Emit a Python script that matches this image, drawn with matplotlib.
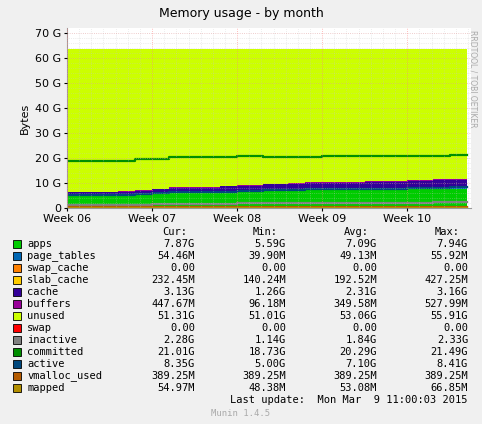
import matplotlib
matplotlib.use("Agg")
import matplotlib.pyplot as plt
import numpy as np

# time in weeks after Week 06
t = [0.0, 0.6, 0.8, 1.0, 1.2, 1.5, 1.8, 2.0, 2.3, 2.6, 2.8, 3.0, 3.5, 3.9, 4.0, 4.3, 4.5, 4.7]
apps        = [4.9, 4.9, 5.2, 5.6, 5.9, 5.9, 6.3, 6.5, 6.8, 6.9, 7.1, 7.2, 7.3, 7.4, 7.6, 7.7, 7.8, 7.87]
page_tables = [0.04, 0.04, 0.04, 0.045, 0.045, 0.045, 0.05, 0.05, 0.05, 0.05, 0.05, 0.05, 0.05, 0.05, 0.055, 0.055, 0.055, 0.054]
swap_cache  = [0.0] * len(t)
slab_cache  = [0.15, 0.15, 0.15, 0.16, 0.16, 0.17, 0.18, 0.18, 0.19, 0.19, 0.2, 0.2, 0.2, 0.21, 0.22, 0.23, 0.23, 0.23]
cache       = [1.3, 1.4, 1.5, 1.7, 2.0, 2.0, 2.1, 2.2, 2.4, 2.4, 2.5, 2.6, 2.7, 2.8, 3.0, 3.1, 3.1, 3.13]
buffers     = [0.1, 0.12, 0.15, 0.2, 0.25, 0.25, 0.3, 0.33, 0.35, 0.35, 0.38, 0.4, 0.4, 0.42, 0.43, 0.44, 0.45, 0.45]
total = 63.5
committed   = [18.8, 18.8, 19.5, 19.8, 20.4, 20.4, 20.4, 20.9, 20.5, 20.5, 20.5, 20.9, 20.9, 20.9, 20.9, 20.9, 21.3, 21.3]
inactive    = [1.2, 1.3, 1.4, 1.5, 1.5, 1.5, 1.6, 2.0, 2.0, 2.0, 2.1, 2.1, 2.1, 2.2, 2.2, 2.25, 2.3, 2.28]
active      = [5.1, 5.2, 5.5, 5.9, 6.3, 6.3, 6.6, 6.9, 7.3, 7.4, 7.5, 7.6, 7.7, 7.8, 7.9, 8.2, 8.3, 8.35]
vmalloc_used = [0.389] * len(t)
mapped      = [0.055] * len(t)

stack_names = ["apps", "page_tables", "swap_cache", "slab_cache", "cache", "buffers", "unused"]
names = stack_names + ["swap", "inactive", "committed", "active", "vmalloc_used", "mapped"]
colors = {"apps": "#00CC00", "page_tables": "#0066B3", "swap_cache": "#FF8000",
          "slab_cache": "#FFCC00", "cache": "#330099", "buffers": "#990099",
          "unused": "#CCFF00", "swap": "#FF0000", "inactive": "#808080",
          "committed": "#008F00", "active": "#00487D", "vmalloc_used": "#B35A00",
          "mapped": "#B38F00"}
cur = ["7.87G", "54.46M", "0.00", "232.45M", "3.13G", "447.67M", "51.31G", "0.00", "2.28G", "21.01G", "8.35G", "389.25M", "54.97M"]
mins = ["5.59G", "39.90M", "0.00", "140.24M", "1.26G", "96.18M", "51.01G", "0.00", "1.14G", "18.73G", "5.00G", "389.25M", "48.38M"]
avgs = ["7.09G", "49.13M", "0.00", "192.52M", "2.31G", "349.58M", "53.06G", "0.00", "1.84G", "20.29G", "7.10G", "389.25M", "53.08M"]
maxs = ["7.94G", "55.92M", "0.00", "427.25M", "3.16G", "527.99M", "55.91G", "0.00", "2.33G", "21.49G", "8.41G", "389.25M", "66.85M"]
week_labels = ["Week 06", "Week 07", "Week 08", "Week 09", "Week 10"]

W, H = 482, 424
fig = plt.figure(figsize=(W / 100, H / 100), dpi=100, facecolor="#F0F0F0")
ax = fig.add_axes([67 / W, (H - 208) / H, 404 / W, 180 / H])
ax.set_facecolor("white")

tt = np.array(t)
layers = [apps, page_tables, swap_cache, slab_cache, cache, buffers]
base = np.zeros(len(t))
for name, vals in zip(stack_names[:-1], layers):
    top = base + np.array(vals)
    ax.fill_between(tt, base, top, step="post", color=colors[name], lw=0)
    base = top
ax.fill_between(tt, base, total, step="post", color=colors["unused"], lw=0)

for name, vals in [("inactive", inactive), ("committed", committed), ("active", active),
                   ("vmalloc_used", vmalloc_used), ("mapped", mapped)]:
    ax.step(tt, vals, where="post", color=colors[name], lw=1.6)

ax.set_xlim(0, 4.75)
ax.set_ylim(0, 72)
ax.set_yticks(np.arange(0, 71, 10) * 1.0)
ax.set_yticklabels(["0"] + [f"{v} G" for v in range(10, 71, 10)], fontsize=8)
ax.set_xticks(range(5))
ax.set_xticklabels(week_labels, fontsize=8)
ax.set_xticks(np.arange(0, 4.75, 1 / 7), minor=True)
ax.set_yticks(np.arange(0, 72, 2), minor=True)
ax.grid(which="minor", color="#C8C8C8", ls=":", lw=0.5, alpha=0.6)
ax.grid(which="major", axis="y", color="#E0A0A0", ls=":", lw=0.6, alpha=0.7)
ax.grid(which="major", axis="x", color="#FF8080", ls=":", lw=0.6, alpha=0.7)
ax.set_axisbelow(False)
ax.tick_params(length=2, pad=2)
ax.tick_params(which="minor", length=0)
for s in ["top", "right"]:
    ax.spines[s].set_visible(False)
ax.spines["left"].set_color("#999999")
ax.spines["bottom"].set_color("#999999")
ax.set_ylabel("Bytes", fontsize=8)

fig.text(241 / W, 1 - 13 / H, "Memory usage - by month", ha="center", va="center", fontsize=9)
fig.text(473 / W, 1 - 30 / H, "RRDTOOL / TOBI OETIKER", rotation=270, ha="center", va="top",
         fontsize=5.5, color="#AAAAAA")

mono = "DejaVu Sans Mono"
fs = 7.5
y0 = 232
for x, lab in [(195, "Cur:"), (286, "Min:"), (377, "Avg:"), (468, "Max:")]:
    fig.text((x - 8) / W, 1 - y0 / H, lab, ha="right", va="center", family=mono, fontsize=fs)
for i, n in enumerate(names):
    y = 1 - (y0 + 12 * (i + 1)) / H
    fig.patches.append(plt.Rectangle((13 / W, y - 4 / H), 8 / W, 8 / H, transform=fig.transFigure,
                                     facecolor=colors[n], edgecolor="black", lw=0.6))
    fig.text(27 / W, y, n, ha="left", va="center", family=mono, fontsize=fs)
    for x, vals in [(195, cur), (286, mins), (377, avgs), (468, maxs)]:
        fig.text(x / W, y, vals[i], ha="right", va="center", family=mono, fontsize=fs)
fig.text(468 / W, 1 - 400 / H, "Last update:  Mon Mar  9 11:00:03 2015", ha="right", va="center",
         family=mono, fontsize=fs)
fig.text(241 / W, 1 - 413 / H, "Munin 1.4.5", ha="center", va="center", family=mono,
         fontsize=6.5, color="#AAAAAA")

fig.savefig("out.png", dpi=100, facecolor=fig.get_facecolor())
